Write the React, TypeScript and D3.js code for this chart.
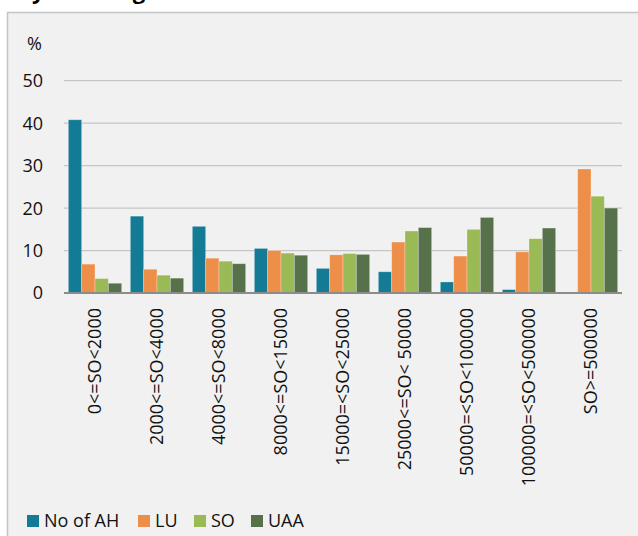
import React from "react";
import * as d3 from "d3";

const categories = [
  "0<=SO<2000",
  "2000<=SO<4000",
  "4000<=SO<8000",
  "8000<=SO<15000",
  "15000=<SO<25000",
  "25000<=SO< 50000",
  "50000=<SO<100000",
  "100000=<SO<500000",
  "SO>=500000",
];
const seriesNames = ["No of AH", "LU", "SO", "UAA"];
const noOfAH = [40.8, 18.1, 15.7, 10.5, 5.8, 5.0, 2.6, 0.8, 0];
const lu = [6.8, 5.6, 8.2, 10.0, 9.0, 12.0, 8.7, 9.7, 29.2];
const so = [3.4, 4.2, 7.5, 9.4, 9.3, 14.6, 15.0, 12.8, 22.8];
const uaa = [2.3, 3.5, 6.9, 8.9, 9.1, 15.4, 17.8, 15.3, 20.0];
const yTicks = [0, 10, 20, 30, 40, 50];
const colors = ["#137b96", "#ee8f49", "#9aba55", "#57724b"];

const series = [noOfAH, lu, so, uaa];

export default function App() {
  const W = 638;
  const H = 536;
  const font = "'Open Sans', 'Noto Sans', sans-serif";
  const x = d3
    .scaleBand<string>()
    .domain(categories)
    .range([64, 622])
    .paddingInner(0.14)
    .paddingOuter(0.07);
  const xs = d3
    .scaleBand<string>()
    .domain(seriesNames)
    .range([0, x.bandwidth()]);
  const y = d3.scaleLinear().domain([0, 50]).range([293, 80.7]);

  const legendX = [27, 138, 194, 251];

  return (
    <svg
      width={W}
      height={H}
      style={{ position: "absolute", left: 0, top: 0, display: "block" }}
      fontFamily={font}
    >
      <rect x={0} y={0} width={W} height={H} fill="#ffffff" />
      <text
        x={18}
        y={-1}
        fontSize={22}
        fontWeight="bold"
        fill="#000"
      >
        by SO categories
      </text>
      <rect
        x={7.5}
        y={12.5}
        width={700}
        height={600}
        fill="#f1f1f1"
        stroke="#c4c4c4"
        strokeWidth={1.5}
      />
      <text x={27} y={50} fontSize={18} fill="#111">
        %
      </text>
      {yTicks.map((t) => (
        <g key={t}>
          {t !== 0 && (
            <line
              x1={64}
              x2={622}
              y1={y(t)}
              y2={y(t)}
              stroke="#c6c6c6"
              strokeWidth={1.2}
            />
          )}
          <text
            x={43}
            y={y(t)}
            dy="0.36em"
            textAnchor="end"
            fontSize={18}
            fill="#111"
          >
            {t}
          </text>
        </g>
      ))}
      {categories.map((c, i) => (
        <g key={c}>
          {series.map((s, j) => {
            const v = s[i];
            if (v <= 0) return null;
            return (
              <rect
                key={j}
                x={(x(c) as number) + (xs(seriesNames[j]) as number)}
                y={y(v)}
                width={xs.bandwidth()}
                height={y(0) - y(v)}
                fill={colors[j]}
                stroke="rgba(255,255,255,0.35)"
                strokeWidth={0.8}
              />
            );
          })}
          <text
            transform={`translate(${(x(c) as number) + x.bandwidth() / 2},308) rotate(-90)`}
            textAnchor="end"
            dy="0.36em"
            fontSize={18}
            fill="#111"
          >
            {c}
          </text>
        </g>
      ))}
      <line
        x1={64}
        x2={622}
        y1={y(0)}
        y2={y(0)}
        stroke="#8c8c8c"
        strokeWidth={2}
      />
      {seriesNames.map((n, j) => (
        <g key={n}>
          <rect x={legendX[j]} y={515} width={12} height={12} fill={colors[j]} />
          <text x={legendX[j] + 17} y={527} fontSize={18} fill="#111">
            {n}
          </text>
        </g>
      ))}
    </svg>
  );
}
